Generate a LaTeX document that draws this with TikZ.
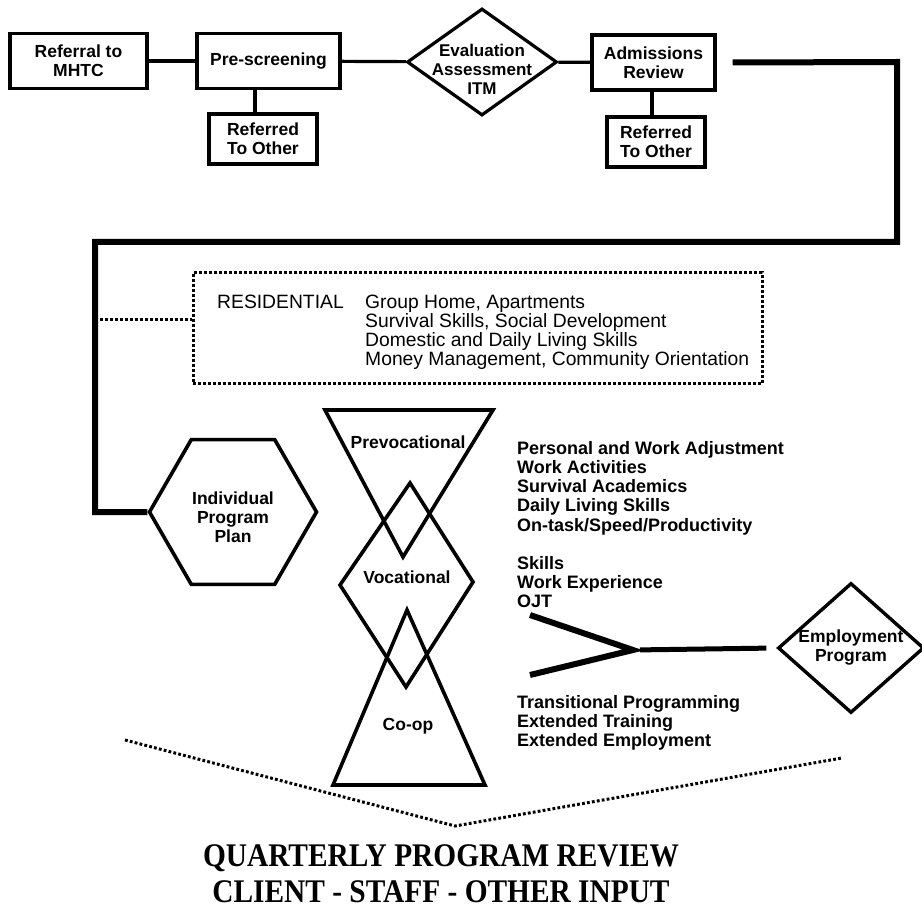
\documentclass[tikz,border=0pt]{standalone}
\usepackage{fontspec}
\setmainfont{Liberation Sans}
\newfontfamily\qfont{Liberation Serif}[FakeStretch=0.89]
\usetikzlibrary{shapes.geometric}
\tikzset{
  txt/.style={font=\fontsize{17.5}{19}\selectfont\bfseries, align=center, inner sep=0pt},
  boxnode/.style={draw, rectangle, line width=3.2pt, inner sep=0pt, txt},
  link/.style={line width=3.2pt},
  heavy/.style={line width=6pt, line join=miter},
  outline/.style={draw, line width=3.6pt, line join=miter},
  dots/.style={line width=3pt, dash pattern=on 2.8pt off 2.2pt},
  reslbl/.style={font=\fontsize{19.3}{19.2}\selectfont, inner sep=0pt},
  listtxt/.style={font=\fontsize{18}{19.2}\selectfont\bfseries, align=left, inner sep=0pt, anchor=north west},
  bigtxt/.style={font=\qfont\bfseries\fontsize{33}{37}\selectfont, inner sep=0pt, anchor=base},
}
\begin{document}
\begin{tikzpicture}[x=1pt,y=-1pt]
\useasboundingbox (0,0) rectangle (922,909);
% top row
\node[boxnode, minimum width=137pt, minimum height=55pt] (ref) at (78.5,61) {Referral to\\MHTC};
\node[boxnode, minimum width=143pt, minimum height=55pt] (pre) at (268.5,61) {Pre-screening};
\node[boxnode, minimum width=108pt, minimum height=50pt] (ro1) at (263,139) {Referred\\To Other};
\node[diamond, draw, line width=3.2pt, inner sep=0pt, minimum width=150pt, minimum height=107pt,
  label={[txt, font=\fontsize{17}{19}\selectfont\bfseries, yshift=-7pt]center:{Evaluation\\Assessment\\ITM}}] (eval) at (482,62) {};
\node[boxnode, minimum width=123pt, minimum height=55pt] (adm) at (653.5,62.5) {Admissions\\Review};
\node[boxnode, minimum width=98pt, minimum height=50pt] (ro2) at (656,142) {Referred\\To Other};
\draw[link] (ref) -- (pre);
\draw[link] (pre) -- (eval);
\draw[link] (eval) -- (adm);
\draw[link] ([xshift=-8pt]ro1.north) -- ([xshift=-8pt]ro1.north |- pre.south);
\draw[link] ([xshift=-4pt]ro2.north) -- ([xshift=-4pt]ro2.north |- adm.south);
% heavy loop to the plan
\coordinate (k1) at (897,62);
\coordinate (k2) at (897,242);
\coordinate (k3) at (95,242);
\coordinate (k4) at (95,512);
\node[regular polygon, regular polygon sides=6, draw, line width=3.6pt, inner sep=0pt, minimum size=167pt,
  label={[txt, yshift=-5pt]center:{Individual\\Program\\Plan}}] (ipp) at (233,512) {};
\draw[heavy] ([xshift=16pt]adm.east) -- (k1) -- (k2) -- (k3) -- (k4) -- (ipp.west);
% residential
\node[draw, dots, minimum width=569pt, minimum height=111pt, inner sep=0pt] (res) at (477.5,328.5) {};
\coordinate (d0) at (95,320);
\draw[dots] (d0) -- (d0 -| res.west);
\node[reslbl, anchor=base west] (reshead) at (217,308.5) {RESIDENTIAL};
\node[reslbl, align=left, anchor=north west] (reslist) at (365,294.5) {Group Home, Apartments\\Survival Skills, Social Development\\Domestic and Daily Living Skills\\Money Management, Community Orientation};
% hourglass
\coordinate (pv1) at (325,410); \coordinate (pv2) at (493,410); \coordinate (pv3) at (403,557);
\path[outline] (pv1) -- (pv2) -- (pv3) -- cycle;
\coordinate (vt) at (410,483); \coordinate (vr) at (473,582); \coordinate (vb) at (406,687); \coordinate (vl) at (340,585);
\path[outline] (vt) -- (vr) -- (vb) -- (vl) -- cycle;
\coordinate (ca) at (407,610); \coordinate (cr) at (485,785); \coordinate (cl) at (333,785);
\path[outline] (ca) -- (cr) -- (cl) -- cycle;
\node[txt] (prevoc) at (408,442) {Prevocational};
\node[txt] (voc) at (407,577) {Vocational};
\node[txt] (coop) at (408,726) {Co-op};
% lists
\node[listtxt] (list1) at (517,441) {Personal and Work Adjustment\\Work Activities\\Survival Academics\\Daily Living Skills\\On-task/Speed/Productivity};
\node[listtxt] (list2) at (517,556) {Skills\\Work Experience\\OJT};
\node[listtxt] (list3) at (517,695) {Transitional Programming\\Extended Training\\Extended Employment};
% employment
\node[diamond, draw, line width=3.4pt, inner sep=0pt, minimum width=146pt, minimum height=130pt,
  label={[txt]center:{Employment\\Program}}] (emp) at (851,648) {};
\coordinate (g1) at (530,615); \coordinate (gapex) at (633,650); \coordinate (g2) at (530,675);
\draw[heavy] (g1) -- (gapex) -- (g2);
\draw[line width=5pt, shorten <=7pt, shorten >=10pt] (gapex) -- (emp.west);
% review
\coordinate (v1) at (125,740); \coordinate (v2) at (455,826); \coordinate (v3) at (842,758);
\draw[dots] (v1) -- (v2) -- (v3);
\node[bigtxt] (q1) at (441,866) {QUARTERLY PROGRAM REVIEW};
\node[bigtxt] (q2) at (441,902) {CLIENT - STAFF - OTHER INPUT};
\end{tikzpicture}
\end{document}
